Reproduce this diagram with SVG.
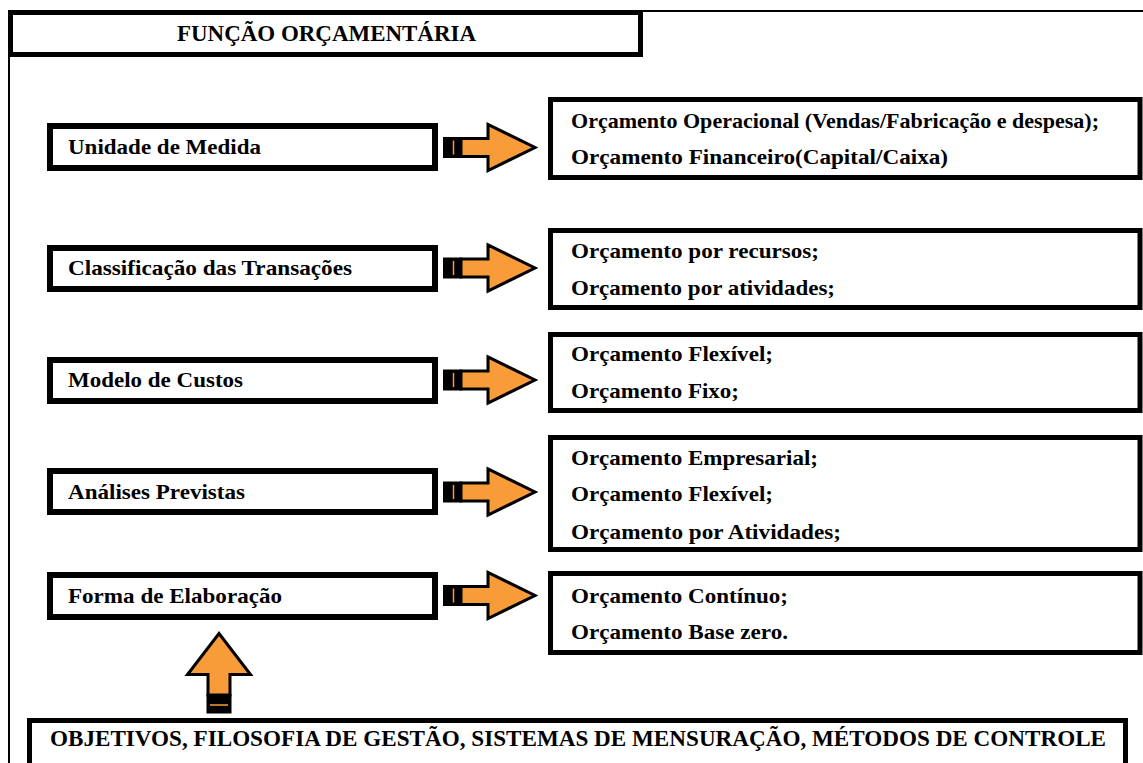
<svg xmlns="http://www.w3.org/2000/svg" width="1143" height="763" viewBox="0 0 1143 763">
<style>
.frame{fill:none;stroke:#000;stroke-width:2}
.lbox{fill:#fff;stroke:#000;stroke-width:6}
.rbox{fill:#fff;stroke:#000;stroke-width:5}
.tbox{fill:#fff;stroke:#000;stroke-width:5}
.t{font-family:"Liberation Serif","Times New Roman",serif;font-weight:bold;font-size:22px;fill:#000}
.cap{font-family:"Liberation Serif","Times New Roman",serif;font-weight:bold;font-size:23px;fill:#000}
.arr{fill:#F89C3A;stroke:#000;stroke-width:3;stroke-linejoin:miter}
.tail{fill:#000}
.nick{stroke:#F89C3A;stroke-width:1.5}
</style>
<rect width="1143" height="763" fill="#fff"/>
<g id="outer-frame">
<line class="frame" x1="9" y1="11" x2="1143" y2="11"/>
<line class="frame" x1="9" y1="11" x2="9" y2="763"/>
</g>
<g id="title">
<rect class="tbox" x="10.5" y="12.5" width="630" height="42"/>
<text class="cap" x="177" y="41" textLength="299" lengthAdjust="spacingAndGlyphs">FUNÇÃO ORÇAMENTÁRIA</text>
</g>
<g id="n1">
<rect class="lbox" x="50" y="126" width="385" height="42"/>
<text class="t" x="68" y="154" textLength="193" lengthAdjust="spacingAndGlyphs">Unidade de Medida</text>
</g>
<g id="n2">
<rect class="lbox" x="50" y="248" width="385" height="41"/>
<text class="t" x="68" y="275" textLength="284" lengthAdjust="spacingAndGlyphs">Classificação das Transações</text>
</g>
<g id="n3">
<rect class="lbox" x="50" y="360" width="385" height="41"/>
<text class="t" x="68" y="387" textLength="175" lengthAdjust="spacingAndGlyphs">Modelo de Custos</text>
</g>
<g id="n4">
<rect class="lbox" x="50" y="471" width="385" height="41"/>
<text class="t" x="68" y="499" textLength="177" lengthAdjust="spacingAndGlyphs">Análises Previstas</text>
</g>
<g id="n5">
<rect class="lbox" x="50" y="575" width="385" height="42"/>
<text class="t" x="68" y="603" textLength="214" lengthAdjust="spacingAndGlyphs">Forma de Elaboração</text>
</g>
<g id="r1">
<rect class="rbox" x="550.5" y="99.5" width="589.5" height="78"/>
<text class="t" x="571" y="128" textLength="528" lengthAdjust="spacingAndGlyphs">Orçamento Operacional (Vendas/Fabricação e despesa);</text>
<text class="t" x="571" y="164" textLength="377" lengthAdjust="spacingAndGlyphs">Orçamento Financeiro(Capital/Caixa)</text>
</g>
<g id="r2">
<rect class="rbox" x="550.5" y="230.5" width="589.5" height="77"/>
<text class="t" x="571" y="258" textLength="248" lengthAdjust="spacingAndGlyphs">Orçamento por recursos;</text>
<text class="t" x="571" y="295" textLength="264" lengthAdjust="spacingAndGlyphs">Orçamento por atividades;</text>
</g>
<g id="r3">
<rect class="rbox" x="550.5" y="334.5" width="589.5" height="76"/>
<text class="t" x="571" y="361" textLength="202" lengthAdjust="spacingAndGlyphs">Orçamento Flexível;</text>
<text class="t" x="571" y="398" textLength="168" lengthAdjust="spacingAndGlyphs">Orçamento Fixo;</text>
</g>
<g id="r4">
<rect class="rbox" x="550.5" y="437.5" width="589.5" height="112"/>
<text class="t" x="571" y="465" textLength="247" lengthAdjust="spacingAndGlyphs">Orçamento Empresarial;</text>
<text class="t" x="571" y="501" textLength="202" lengthAdjust="spacingAndGlyphs">Orçamento Flexível;</text>
<text class="t" x="571" y="539" textLength="270" lengthAdjust="spacingAndGlyphs">Orçamento por Atividades;</text>
</g>
<g id="r5">
<rect class="rbox" x="550.5" y="573.5" width="589.5" height="79"/>
<text class="t" x="571" y="603" textLength="217" lengthAdjust="spacingAndGlyphs">Orçamento Contínuo;</text>
<text class="t" x="571" y="639" textLength="217" lengthAdjust="spacingAndGlyphs">Orçamento Base zero.</text>
</g>
<g id="bottom">
<rect class="tbox" x="29.5" y="720.5" width="1096" height="50"/>
<text class="cap" x="50" y="746" textLength="1056" lengthAdjust="spacingAndGlyphs">OBJETIVOS, FILOSOFIA DE GESTÃO, SISTEMAS DE MENSURAÇÃO, MÉTODOS DE CONTROLE</text>
</g>
<g id="connectors">
<g transform="translate(0,147.5)">
<rect class="tail" x="443" y="-10.5" width="19" height="21"/>
<line class="nick" x1="453.5" y1="-7" x2="453.5" y2="7"/>
<polygon class="arr" points="461,-9 488,-9 488,-23 535,0 488,23 488,9 461,9"/>
</g>
<g transform="translate(0,268)">
<rect class="tail" x="443" y="-10.5" width="19" height="21"/>
<line class="nick" x1="453.5" y1="-7" x2="453.5" y2="7"/>
<polygon class="arr" points="461,-9 488,-9 488,-23 535,0 488,23 488,9 461,9"/>
</g>
<g transform="translate(0,380)">
<rect class="tail" x="443" y="-10.5" width="19" height="21"/>
<line class="nick" x1="453.5" y1="-7" x2="453.5" y2="7"/>
<polygon class="arr" points="461,-9 488,-9 488,-23 535,0 488,23 488,9 461,9"/>
</g>
<g transform="translate(0,492)">
<rect class="tail" x="443" y="-10.5" width="19" height="21"/>
<line class="nick" x1="453.5" y1="-7" x2="453.5" y2="7"/>
<polygon class="arr" points="461,-9 488,-9 488,-23 535,0 488,23 488,9 461,9"/>
</g>
<g transform="translate(0,595.5)">
<rect class="tail" x="443" y="-10.5" width="19" height="21"/>
<line class="nick" x1="453.5" y1="-7" x2="453.5" y2="7"/>
<polygon class="arr" points="461,-9 488,-9 488,-23 535,0 488,23 488,9 461,9"/>
</g>
<g id="up-arrow">
<rect class="tail" x="206.5" y="694" width="25" height="19.5"/>
<line class="nick" x1="210" y1="705" x2="228" y2="705"/>
<polygon class="arr" points="219,633.5 250.5,674.5 230,674.5 230,695 208,695 208,674.5 187.5,674.5"/>
</g>
</g>
</svg>
